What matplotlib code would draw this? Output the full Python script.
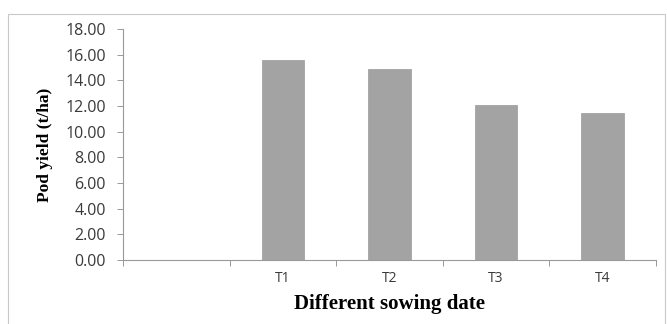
import matplotlib
matplotlib.use('Agg')
import matplotlib.pyplot as plt
import numpy as np

# Datos
categorias = ['', 'T1', 'T2', 'T3', 'T4']
rendimiento = [0.0, 15.6, 14.86, 12.08, 11.43]
yticks = [0, 2, 4, 6, 8, 10, 12, 14, 16, 18]

fig = plt.figure(figsize=(6.67, 3.24), dpi=100)
fig.patch.set_facecolor('white')

# marco exterior gris
borde = plt.Rectangle((0.012, -0.02), 0.985, 0.977, transform=fig.transFigure,
                      fill=False, edgecolor='#c8c8c8', linewidth=0.8)
fig.add_artist(borde)

ax = fig.add_axes([0.1844, 0.1975, 0.7991, 0.713])

x = np.arange(len(categorias))
ax.bar(x, rendimiento, width=0.4, color='#a3a3a3', edgecolor='#9a9a9a', linewidth=0.5)

ax.set_xlim(-0.5, len(categorias) - 0.5)
ax.set_ylim(0, 18)

ax.set_yticks(yticks)
ax.set_yticklabels(['%.2f' % v for v in yticks], fontsize=11.5, color='#3a3a3a', family='Open Sans')

# etiquetas en el centro, marcas en los limites (estilo Excel)
ax.set_xticks(x)
ax.set_xticklabels(categorias, fontsize=10, color='#3a3a3a', family='Open Sans')
ax.set_xticks(np.arange(-0.5, len(categorias)), minor=True)
ax.tick_params(axis='x', which='major', length=0, pad=8)
ax.tick_params(axis='x', which='minor', length=4, color='#999999', width=0.7)
ax.tick_params(axis='y', length=4.3, color='#999999', width=0.7, pad=8)

for s in ['top', 'right']:
    ax.spines[s].set_visible(False)
for s in ['left', 'bottom']:
    ax.spines[s].set_color('#999999')
    ax.spines[s].set_linewidth(0.8)

ax.set_ylabel('Pod yield (t/ha)', fontsize=12.5, fontweight='bold', family='Liberation Serif')
ax.yaxis.set_label_coords(-0.132, 0.5)
ax.set_xlabel('Different sowing date', fontsize=15, fontweight='bold', family='Liberation Serif')
ax.xaxis.set_label_coords(0.5, -0.145)

fig.savefig('out.png', dpi=100)
